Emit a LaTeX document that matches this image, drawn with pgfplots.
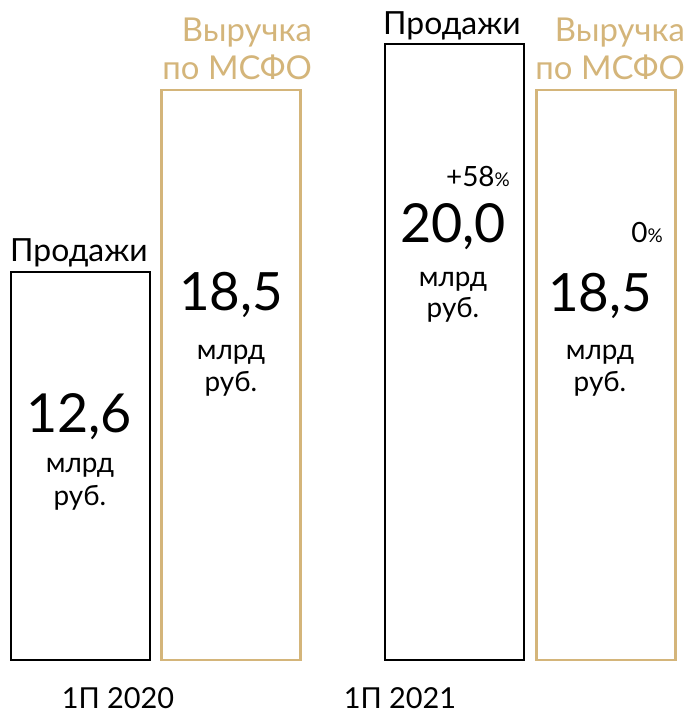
\documentclass[border=0pt]{standalone}
\usepackage{fontspec}
\setmainfont{Lato}
\usepackage{pgfplots}
\pgfplotsset{compat=1.18}
\definecolor{gold}{RGB}{212,181,122}
\newcommand\PP[2]{(axis cs:#1,{(660-#2)/30.8})}
\newcommand\fs[1]{\fontsize{#1}{#1}\selectfont}
\begin{document}
\begin{tikzpicture}
\begin{axis}[
  scale only axis, width=689bp, height=715bp,
  xmin=0, xmax=689, ymin=-1.7857, ymax=21.4286,
  axis line style={draw=none}, xtick=\empty, ytick=\empty,
  clip=false, ybar, bar width=139, bar shift=0pt,
]
\addplot[draw=black, line width=2bp, fill=none] coordinates {(80,12.6) (454,20.0)};
\addplot[draw=gold, line width=2.5bp, fill=none] coordinates {(231,18.5) (606,18.5)};
% bar 1
\node[anchor=base, inner sep=0] at \PP{79}{262} {\fs{32}Продажи};
\node[anchor=base, inner sep=0] at \PP{79}{433} {\fs{54}12,6};
\node[anchor=base, inner sep=0] at \PP{80}{473} {\fs{28}млрд};
\node[anchor=base, inner sep=0] at \PP{80}{506} {\fs{28}руб.};
% bar 2
\node[anchor=base east, inner sep=0, text=gold] at \PP{312}{42} {\fs{33}Выручка};
\node[anchor=base east, inner sep=0, text=gold] at \PP{312}{80} {\fs{33}по МСФО};
\node[anchor=base, inner sep=0] at \PP{231}{311} {\fs{53}18,5};
\node[anchor=base, inner sep=0] at \PP{231}{360} {\fs{28}млрд};
\node[anchor=base, inner sep=0] at \PP{231}{392} {\fs{28}руб.};
% bar 3
\node[anchor=base, inner sep=0] at \PP{452}{35} {\fs{32}Продажи};
\node[anchor=base east, inner sep=0] at \PP{510}{187} {\fs{28}+58{\fs{19}\%}};
\node[anchor=base, inner sep=0] at \PP{453}{243} {\fs{54}20,0};
\node[anchor=base, inner sep=0] at \PP{453}{287} {\fs{28}млрд};
\node[anchor=base, inner sep=0] at \PP{453}{318} {\fs{28}руб.};
% bar 4
\node[anchor=base east, inner sep=0, text=gold] at \PP{685}{42} {\fs{33}Выручка};
\node[anchor=base east, inner sep=0, text=gold] at \PP{685}{80} {\fs{33}по МСФО};
\node[anchor=base east, inner sep=0] at \PP{663}{243} {\fs{28}0{\fs{19}\%}};
\node[anchor=base, inner sep=0] at \PP{600}{312} {\fs{53}18,5};
\node[anchor=base, inner sep=0] at \PP{600}{360} {\fs{28}млрд};
\node[anchor=base, inner sep=0] at \PP{600}{392} {\fs{28}руб.};
% groups
\node[anchor=base, inner sep=0] at \PP{118}{708} {\fs{29}1П 2020};
\node[anchor=base, inner sep=0] at \PP{400}{708} {\fs{29}1П 2021};
\end{axis}
\end{tikzpicture}
\end{document}
